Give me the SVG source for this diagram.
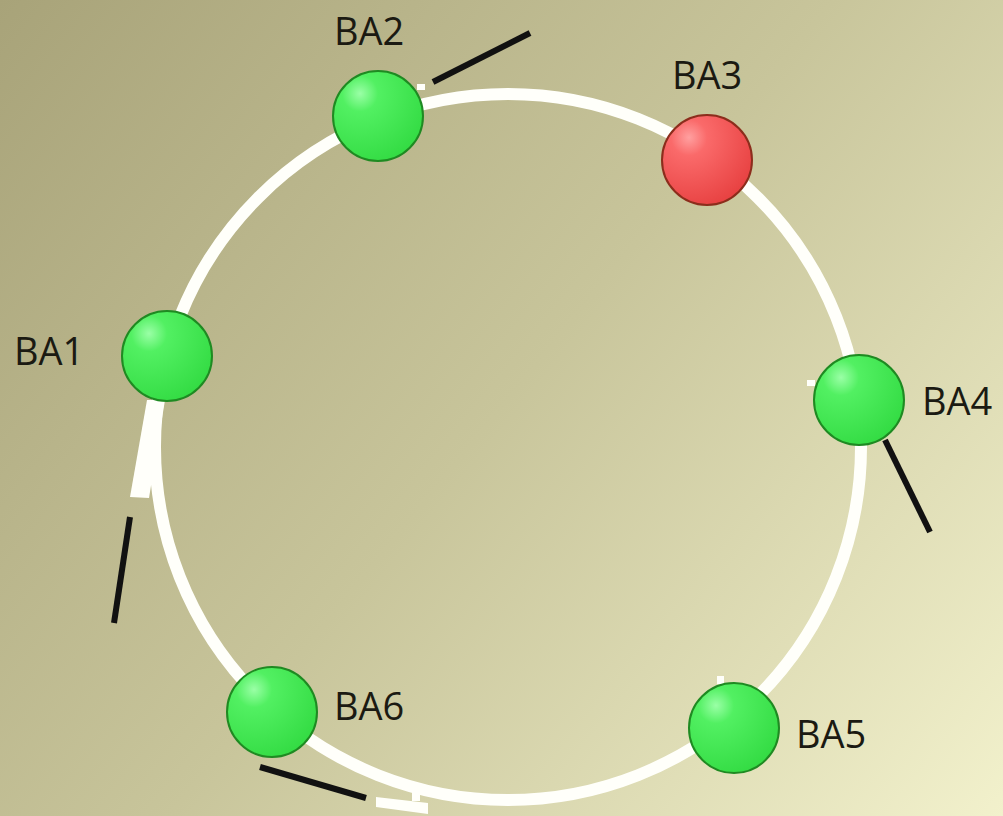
<svg xmlns="http://www.w3.org/2000/svg" width="1003" height="816" viewBox="0 0 1003 816">
<defs>
<linearGradient id="bg" x1="0" y1="0" x2="1003" y2="816" gradientUnits="userSpaceOnUse">
<stop offset="0" stop-color="#a8a379"/>
<stop offset="0.5" stop-color="#c8c59b"/>
<stop offset="1" stop-color="#f2f1cc"/>
</linearGradient>
<radialGradient id="g" cx="0.3" cy="0.25" r="0.8">
<stop offset="0" stop-color="#9affa6"/>
<stop offset="0.25" stop-color="#52f062"/>
<stop offset="1" stop-color="#34dc44"/>
</radialGradient>
<radialGradient id="r" cx="0.3" cy="0.25" r="0.8">
<stop offset="0" stop-color="#ffa0a0"/>
<stop offset="0.25" stop-color="#fa6a6a"/>
<stop offset="1" stop-color="#e84242"/>
</radialGradient>
<style>
.ring{fill:none;stroke:#fffffa;stroke-width:12}
.wf{fill:#fffffa}
.bl{stroke:#111;stroke-width:6;stroke-linecap:butt}
.ng{fill:url(#g);stroke:#1f8a22;stroke-width:2}
.nr{fill:url(#r);stroke:#8c2d1c;stroke-width:2}
.lb{font-family:"Open Sans","DejaVu Sans",sans-serif;font-size:38px;fill:#1b1a12}
</style>
</defs>
<rect width="1003" height="816" fill="url(#bg)"/>
<g id="connectors">
<circle class="ring" cx="508" cy="447" r="353"/>
<polygon class="wf" points="147,400 165,400 149,498 130,497"/>
<polygon class="wf" points="376,797 428,803 428,814 376,807"/>
<rect class="wf" x="412" y="792" width="8" height="9"/>
<rect class="wf" x="417" y="84" width="8" height="6"/>
<rect class="wf" x="807" y="380" width="8" height="6"/>
<rect class="wf" x="717" y="676" width="7" height="8"/>
<line class="bl" x1="433" y1="82" x2="530" y2="33"/>
<line class="bl" x1="130" y1="517" x2="114" y2="623"/>
<line class="bl" x1="885" y1="440" x2="930" y2="532"/>
<line class="bl" x1="260" y1="767" x2="366" y2="798"/>
</g>
<g id="BA1"><circle class="ng" cx="167" cy="356" r="45"/><text class="lb" x="14" y="365">BA1</text></g>
<g id="BA2"><circle class="ng" cx="378" cy="116" r="45"/><text class="lb" x="334" y="45">BA2</text></g>
<g id="BA3"><circle class="nr" cx="707" cy="160" r="45"/><text class="lb" x="672" y="89">BA3</text></g>
<g id="BA4"><circle class="ng" cx="859" cy="400" r="45"/><text class="lb" x="922" y="415">BA4</text></g>
<g id="BA5"><circle class="ng" cx="734" cy="728" r="45"/><text class="lb" x="796" y="748">BA5</text></g>
<g id="BA6"><circle class="ng" cx="272" cy="712" r="45"/><text class="lb" x="334" y="720">BA6</text></g>
</svg>
